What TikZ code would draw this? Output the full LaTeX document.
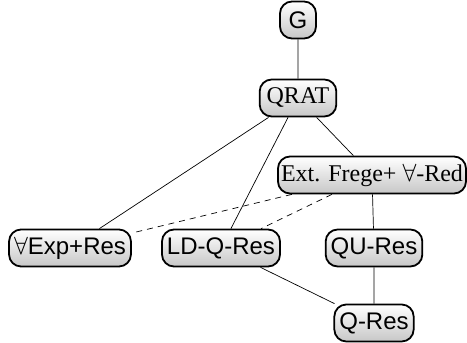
\documentclass[tikz,border=0pt]{standalone}
\usepackage{fontspec}
\setmainfont{Liberation Serif}
\setsansfont{Liberation Sans}
\usetikzlibrary{positioning}

\begin{document}
\begin{tikzpicture}[x=1pt, y=1pt,
                    sys/.style={draw, line width=1.8pt, rounded corners=12pt,
                                top color=white, bottom color=black!22,
                                minimum height=37pt, inner xsep=5pt, inner ysep=2pt,
                                font=\fontsize{24}{28}\selectfont},
                    sans/.style={sys, font=\fontsize{24}{28}\selectfont\sffamily},
                    link/.style={line width=0.7pt},
                    weak/.style={link, dashed, dash pattern=on 6pt off 5pt}]
                        \useasboundingbox (0, 0) rectangle (467, 343);
                        \node[sans, minimum width=36pt] (G) at (298, 323) {G};
                        \node[sys, inner xsep=7pt] (QRAT) at (298, 245) {QRAT};
                        \node[sys, inner xsep=3pt] (EF) at (372, 168) {Ext. Frege+ $\forall$-Red};
                        \node[sans] (AExp) at (70, 95) {$\forall$Exp+Res};
                        \node[sans] (LDQ) at (221, 95) {LD-Q-Res};
                        \node[sans] (QU) at (374, 95) {QU-Res};
                        \node[sans] (QRes) at (374, 20) {Q-Res};
                        \draw[link]
                        (G) -- (QRAT)
                        (QRAT) -- (EF)
                        (QRAT) -- (AExp)
                        (QRAT) -- (LDQ)
                        (EF) -- (QU)
                        (QU) -- (QRes)
                        (LDQ) -- (QRes);
                        \draw[weak]
                        (EF) -- (AExp)
                        (EF) -- (LDQ);
                    \end{tikzpicture}
\end{document}
